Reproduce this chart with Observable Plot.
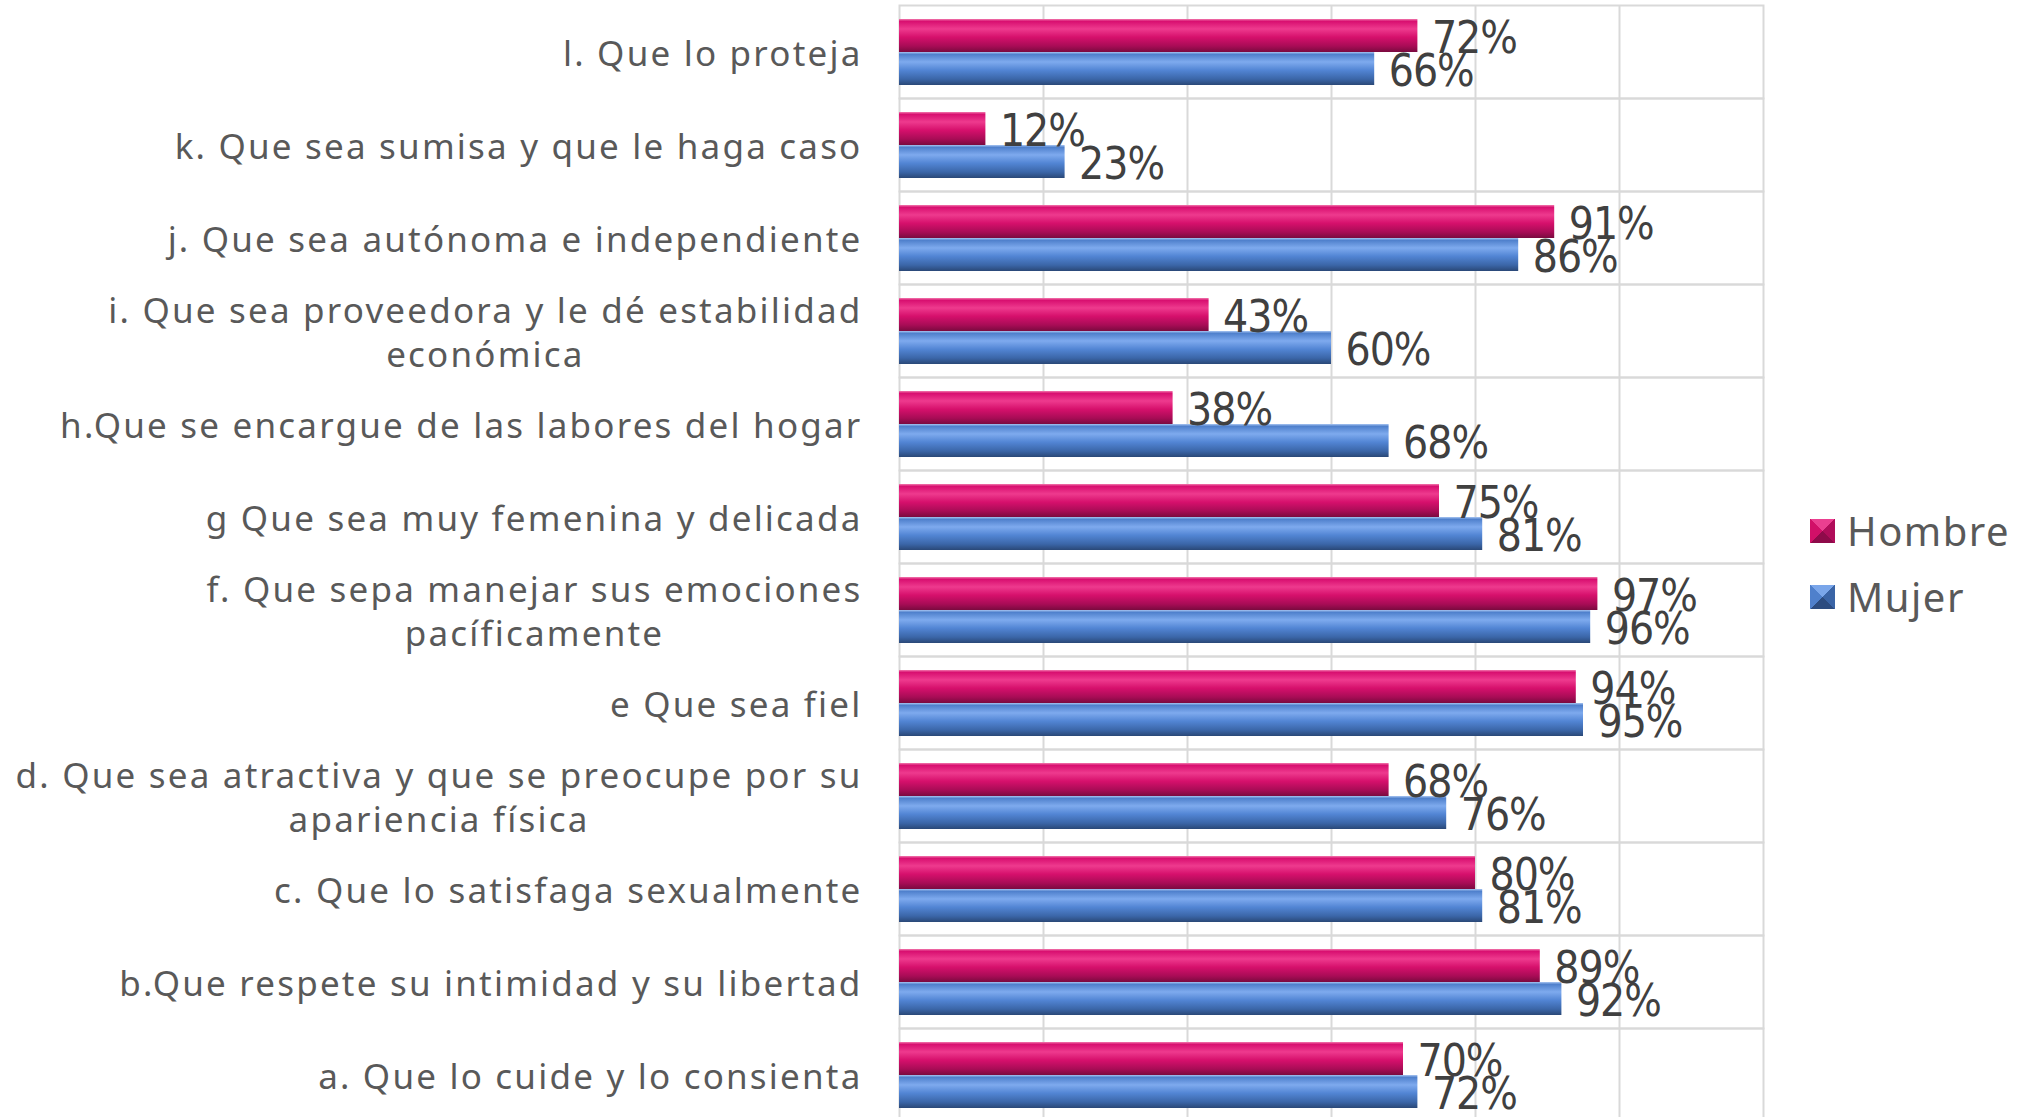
<!DOCTYPE html>
<html>
<head>
<meta charset="utf-8">
<script src="https://cdn.jsdelivr.net/npm/d3@7"></script>
<script src="https://cdn.jsdelivr.net/npm/@observablehq/plot@0.6"></script>
<style>
  html, body { margin: 0; padding: 0; background: #ffffff; overflow: hidden; }
  #wrap { display: flex; flex-direction: row; align-items: center; width: 2025px; height: 1117px; }
  #chart { flex: 0 0 auto; align-self: flex-start; }
  #chart [aria-label^="fy-axis"] text { letter-spacing: 2.2px; }
  #chart [aria-label="text"] text { letter-spacing: -1px; }
  #legend { flex: 0 0 auto; padding-left: 20px; padding-top: 10px; font-family: "Noto Sans", "Open Sans", sans-serif; font-size: 40px; letter-spacing: 1.5px; color: #595959; }
  .item { display: flex; align-items: center; height: 66px; }
  .sw { display: inline-block; width: 25px; height: 24px; margin-right: 12px; }
  .sw.Hombre { background: conic-gradient(from 45deg, #b00d5a 0 25%, #8e0b4a 25% 50%, #d11068 50% 75%, #ea3f90 75% 100%); }
  .sw.Mujer { background: conic-gradient(from 45deg, #3a64a6 0 25%, #2c4c80 25% 50%, #4f80cc 50% 75%, #7aa6ea 75% 100%); }
</style>
</head>
<body>
<div id="wrap"><div id="chart"></div><div id="legend"></div></div>
<script>
const categories = [
  "l. Que lo proteja",
  "k. Que sea sumisa y que le haga caso",
  "j. Que sea autónoma e independiente",
  "i. Que sea proveedora y le dé estabilidad\neconómica",
  "h.Que se encargue de las labores del hogar",
  "g Que sea muy femenina y delicada",
  "f. Que sepa manejar sus emociones\npacíficamente",
  "e Que sea fiel",
  "d. Que sea atractiva y que se preocupe por su\napariencia física",
  "c. Que lo satisfaga sexualmente",
  "b.Que respete su intimidad y su libertad",
  "a. Que lo cuide y lo consienta"
];
const seriesNames = ["Hombre", "Mujer"];
const hombre = [72, 12, 91, 43, 38, 75, 97, 94, 68, 80, 89, 70];
const mujer  = [66, 23, 86, 60, 68, 81, 96, 95, 76, 81, 92, 72];
const xTicks = [0, 20, 40, 60, 80, 100, 120];

const rows = categories.flatMap((c, i) => [
  {category: c, series: "Hombre", value: hombre[i]},
  {category: c, series: "Mujer", value: mujer[i]}
]);

const chart = Plot.plot({
  width: 1790,
  height: 1122,
  marginLeft: 899,
  marginRight: 27,
  marginTop: 5,
  marginBottom: 1,
  x: {domain: [xTicks[0], xTicks[xTicks.length - 1]], axis: null},
  y: {domain: seriesNames, axis: null, paddingInner: 0, paddingOuter: 0.37},
  fy: {domain: categories, padding: 0, axis: null},
  style: {background: "#ffffff", fontFamily: "'Noto Sans', 'Open Sans', sans-serif"},
  marks: [
    Plot.gridX(xTicks.slice(1, -1), {stroke: "#d9d9d9", strokeOpacity: 1, strokeWidth: 2}),
    Plot.frame({stroke: "#d9d9d9", strokeWidth: 2}),
    Plot.barX(rows.filter(d => d.series === "Hombre"), {x: "value", y: "series", fy: "category", fill: "url(#gradHombre)"}),
    Plot.barX(rows.filter(d => d.series === "Mujer"), {x: "value", y: "series", fy: "category", fill: "url(#gradMujer)"}),
    Plot.text(rows, {
      x: "value", y: "series", fy: "category",
      text: d => `${d.value}%`,
      textAnchor: "start", dx: 14, dy: 3,
      fontSize: 44,
      fontFamily: "'Liberation Sans Narrow', 'DejaVu Sans Condensed', 'Arial Narrow', sans-serif",
      fill: "#404040"
    }),
    Plot.axisFy({
      anchor: "left", label: null, tickSize: 0, tickPadding: 37,
      fontSize: 35, color: "#595959", lineHeight: 1.27
    })
  ]
});

// gradient definitions for the bevelled bars
const ns = "http://www.w3.org/2000/svg";
const defs = document.createElementNS(ns, "defs");
function addGrad(id, stops) {
  const g = document.createElementNS(ns, "linearGradient");
  g.setAttribute("id", id);
  g.setAttribute("x1", "0"); g.setAttribute("y1", "0");
  g.setAttribute("x2", "0"); g.setAttribute("y2", "1");
  stops.forEach(([o, c]) => {
    const s = document.createElementNS(ns, "stop");
    s.setAttribute("offset", o);
    s.setAttribute("stop-color", c);
    g.appendChild(s);
  });
  defs.appendChild(g);
}
addGrad("gradHombre", [[0, "#f27aae"], [0.07, "#d80f70"], [0.3, "#ee3a8e"], [0.55, "#d6106c"], [0.82, "#a80c56"], [1, "#7a0a3f"]]);
addGrad("gradMujer", [[0, "#a9c6f2"], [0.07, "#4f80cc"], [0.3, "#7eaaee"], [0.55, "#5285d4"], [0.82, "#3b66a8"], [1, "#2a4877"]]);
chart.insertBefore(defs, chart.firstChild);

document.getElementById("chart").appendChild(chart);

// center the wrapped lines of multi-line category labels under each other
chart.querySelectorAll('[aria-label^="fy-axis"] text').forEach(t => {
  const spans = t.querySelectorAll("tspan");
  if (spans.length > 1) {
    const w = t.getBBox().width;
    t.setAttribute("text-anchor", "middle");
    spans.forEach(s => s.setAttribute("x", -w / 2));
  }
});

// legend
const legend = document.getElementById("legend");
seriesNames.forEach(name => {
  const item = document.createElement("div");
  item.className = "item";
  const sw = document.createElement("span");
  sw.className = "sw " + name;
  const lab = document.createElement("span");
  lab.textContent = name;
  item.appendChild(sw);
  item.appendChild(lab);
  legend.appendChild(item);
});
</script>
</body>
</html>
